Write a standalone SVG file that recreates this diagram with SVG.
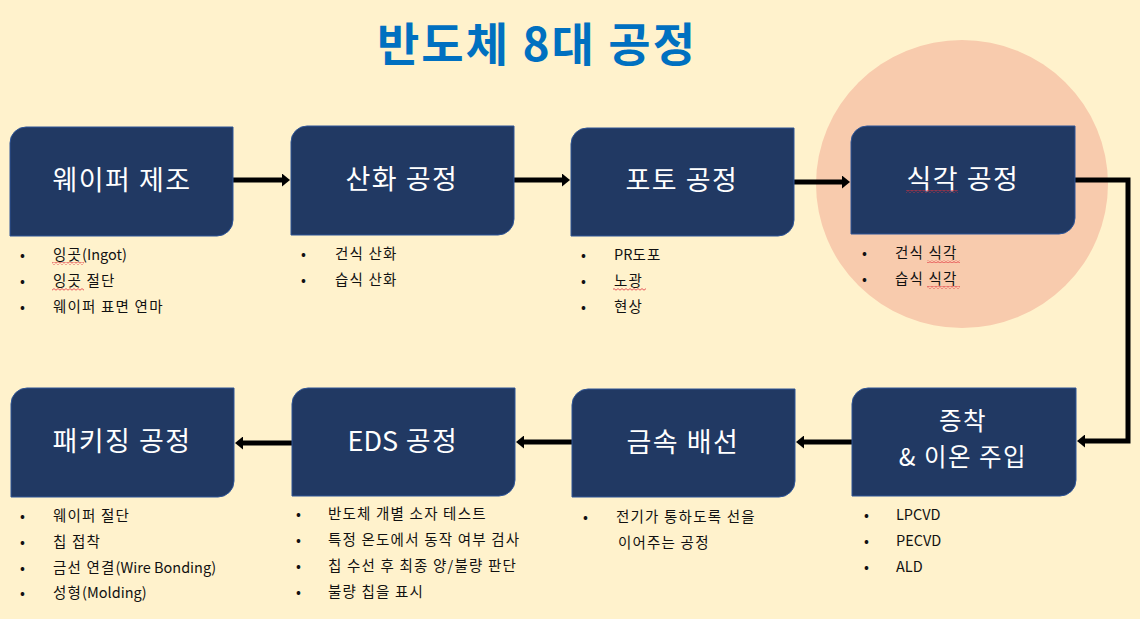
<svg xmlns="http://www.w3.org/2000/svg" width="1140" height="619" viewBox="0 0 1140 619">
<defs>
<style>
.box{fill:#213963;stroke:#2F5597;stroke-width:1}
.lbl{font-family:"Noto Sans CJK KR","Noto Sans",sans-serif;font-size:27px;letter-spacing:1.5px;fill:#FFFFFF;text-anchor:middle}
.bt{font-family:"Noto Sans CJK KR","Noto Sans",sans-serif;font-size:14.5px;letter-spacing:1.2px;fill:#111111}
.lat{letter-spacing:0px}
.conn{fill:none;stroke:#000000;stroke-width:5}
</style>
<marker id="ah" markerUnits="userSpaceOnUse" markerWidth="9" markerHeight="13" refX="1" refY="6.5" orient="auto">
<path d="M0,0 L8,6.5 L0,13 Z" fill="#000000"/>
</marker>
<pattern id="sq" patternUnits="userSpaceOnUse" width="4" height="3">
<path d="M0,2.2 L2,0.6 L4,2.2" fill="none" stroke="#E0303A" stroke-width="0.8"/>
</pattern>
</defs>
<rect width="1140" height="619" fill="#FFF2CC"/>
<ellipse cx="962" cy="184" rx="146" ry="144" fill="#F8CBAD"/>
<text x="537" y="61" font-family="'Noto Sans CJK KR',sans-serif" font-size="46" letter-spacing="2" font-weight="bold" fill="#0070C0" text-anchor="middle">반도체 8대 공정</text>

<g id="connectors">
<line class="conn" x1="233" y1="180" x2="283" y2="180" marker-end="url(#ah)"/>
<line class="conn" x1="514" y1="180" x2="563" y2="180" marker-end="url(#ah)"/>
<line class="conn" x1="794" y1="182" x2="843" y2="182" marker-end="url(#ah)"/>
<polyline class="conn" points="1075,180 1128,180 1128,441 1084,441" marker-end="url(#ah)"/>
<line class="conn" x1="852" y1="442" x2="803" y2="442" marker-end="url(#ah)"/>
<line class="conn" x1="572" y1="442" x2="523" y2="442" marker-end="url(#ah)"/>
<line class="conn" x1="292" y1="443" x2="242" y2="443" marker-end="url(#ah)"/>
</g>

<g id="n1">
<path class="box" d="M26,127 H233 V220 A16,16 0 0 1 217,236 H10 V143 A16,16 0 0 1 26,127 Z"/>
<text class="lbl" x="122" y="190">웨이퍼 제조</text>
<text class="bt" x="20" y="260">•</text><text class="bt" x="53" y="260">잉곳<tspan class="lat">(Ingot)</tspan></text>
<text class="bt" x="20" y="286">•</text><text class="bt" x="53" y="286">잉곳 절단</text>
<text class="bt" x="20" y="312">•</text><text class="bt" x="53" y="312">웨이퍼 표면 연마</text>
<rect x="52" y="262" width="32" height="3" fill="url(#sq)"/>
<rect x="52" y="288" width="32" height="3" fill="url(#sq)"/>
</g>

<g id="n2">
<path class="box" d="M307,126 H514 V219 A16,16 0 0 1 498,235 H291 V142 A16,16 0 0 1 307,126 Z"/>
<text class="lbl" x="402" y="189">산화 공정</text>
<text class="bt" x="301" y="259">•</text><text class="bt" x="335" y="259">건식 산화</text>
<text class="bt" x="301" y="285">•</text><text class="bt" x="335" y="285">습식 산화</text>
</g>

<g id="n3">
<path class="box" d="M587,128 H794 V220 A16,16 0 0 1 778,236 H571 V144 A16,16 0 0 1 587,128 Z"/>
<text class="lbl" x="682" y="190">포토 공정</text>
<text class="bt" x="581" y="260">•</text><text class="bt" x="614" y="260"><tspan class="lat">PR</tspan>도포</text>
<text class="bt" x="581" y="286">•</text><text class="bt" x="614" y="286">노광</text>
<text class="bt" x="581" y="312">•</text><text class="bt" x="614" y="312">현상</text>
<rect x="613" y="288" width="33" height="3" fill="url(#sq)"/>
</g>

<g id="n4">
<path class="box" d="M867,126 H1075 V218 A16,16 0 0 1 1059,234 H851 V142 A16,16 0 0 1 867,126 Z"/>
<text class="lbl" x="963" y="189">식각 공정</text>
<rect x="906" y="190" width="52" height="3" fill="url(#sq)"/>
<text class="bt" x="862" y="258">•</text><text class="bt" x="895" y="258">건식 식각</text>
<text class="bt" x="862" y="284">•</text><text class="bt" x="895" y="284">습식 식각</text>
<rect x="927" y="260" width="33" height="3" fill="url(#sq)"/>
<rect x="927" y="286" width="33" height="3" fill="url(#sq)"/>
</g>

<g id="n5">
<path class="box" d="M868,388 H1076 V480 A16,16 0 0 1 1060,496 H852 V404 A16,16 0 0 1 868,388 Z"/>
<text class="lbl" x="963" y="430" style="font-size:24.5px">증착<tspan x="963" dy="35.5">&amp; 이온 주입</tspan></text>
<text class="bt lat" x="864" y="520">•</text><text class="bt lat" x="896" y="520">LPCVD</text>
<text class="bt lat" x="864" y="546">•</text><text class="bt lat" x="896" y="546">PECVD</text>
<text class="bt lat" x="864" y="572">•</text><text class="bt lat" x="896" y="572">ALD</text>
</g>

<g id="n6">
<path class="box" d="M588,389 H795 V481 A16,16 0 0 1 779,497 H572 V405 A16,16 0 0 1 588,389 Z"/>
<text class="lbl" x="683" y="452">금속 배선</text>
<text class="bt" x="583" y="522">•</text><text class="bt" x="616" y="522">전기가 통하도록 선을</text>
<text class="bt" x="618" y="548">이어주는 공정</text>
</g>

<g id="n7">
<path class="box" d="M308,388 H515 V480 A16,16 0 0 1 499,496 H292 V404 A16,16 0 0 1 308,388 Z"/>
<text class="lbl" x="403" y="451"><tspan class="lat">EDS</tspan> 공정</text>
<text class="bt" x="296" y="519">•</text><text class="bt" x="328" y="519">반도체 개별 소자 테스트</text>
<text class="bt" x="296" y="545">•</text><text class="bt" x="328" y="545">특정 온도에서 동작 여부 검사</text>
<text class="bt" x="296" y="571">•</text><text class="bt" x="328" y="571">칩 수선 후 최종 양/불량 판단</text>
<text class="bt" x="296" y="597">•</text><text class="bt" x="328" y="597">불량 칩을 표시</text>
</g>

<g id="n8">
<path class="box" d="M27,388 H234 V481 A16,16 0 0 1 218,497 H11 V404 A16,16 0 0 1 27,388 Z"/>
<text class="lbl" x="122" y="451">패키징 공정</text>
<text class="bt" x="20" y="521">•</text><text class="bt" x="53" y="521">웨이퍼 절단</text>
<text class="bt" x="20" y="547">•</text><text class="bt" x="53" y="547">칩 접착</text>
<text class="bt" x="20" y="573">•</text><text class="bt" x="53" y="573">금선 연결<tspan class="lat">(Wire Bonding)</tspan></text>
<text class="bt" x="20" y="598">•</text><text class="bt" x="53" y="598">성형<tspan class="lat">(Molding)</tspan></text>
</g>
</svg>
